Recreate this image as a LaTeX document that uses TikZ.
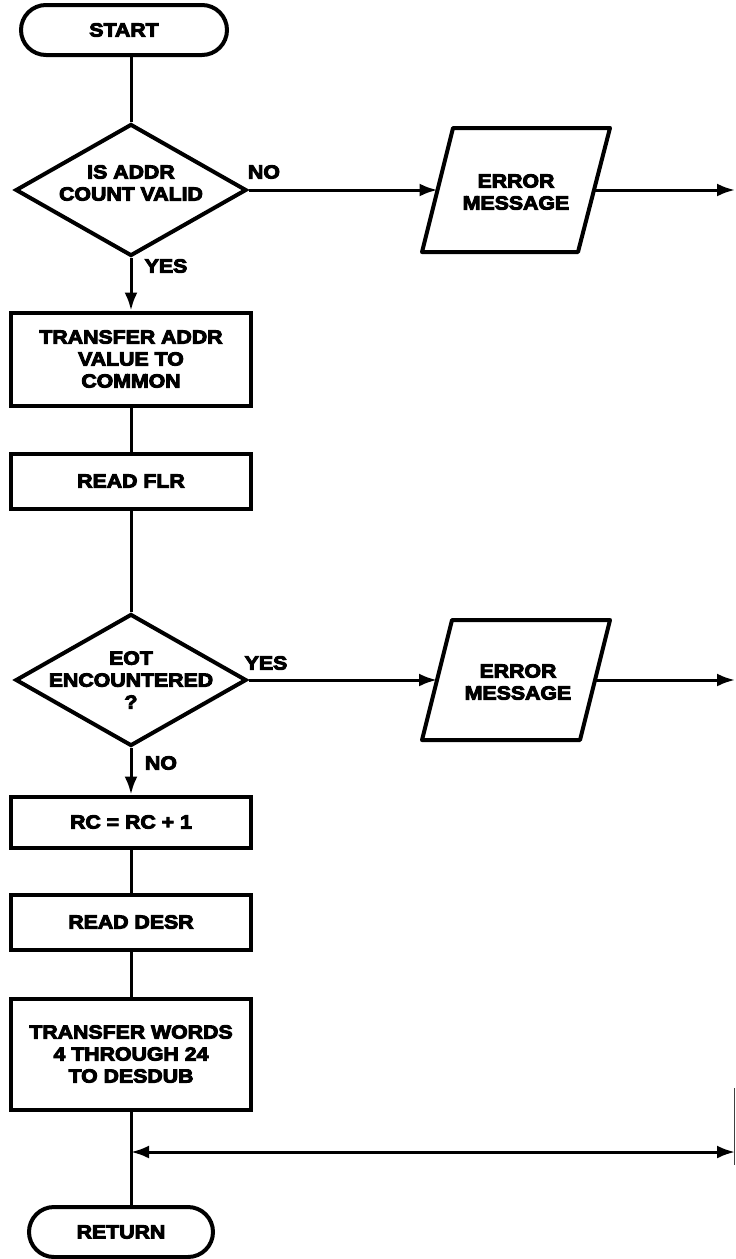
\documentclass[tikz,border=0pt]{standalone}
\usepackage{fontspec}
\newfontfamily\lblfont{Liberation Sans}[FakeStretch=1.12,FakeBold=5]
\usetikzlibrary{shapes.geometric,arrows.meta}
\tikzset{
  lbl/.style={font=\lblfont\bfseries\fontsize{19}{22}\selectfont},
  boxnode/.style={lbl, draw, line width=4pt, rectangle, minimum width=240pt, inner sep=0pt, align=center},
  term/.style={boxnode, rounded corners=25pt, minimum height=50pt},
  dia/.style={draw, diamond, line width=4pt, inner sep=0pt, minimum width=231pt, minimum height=132pt},
  paraline/.style={draw, line width=4pt, line join=round},
  txt/.style={lbl, align=center, inner sep=0pt},
  flow/.style={line width=3pt},
  arr/.style={flow, -{Latex[length=18pt,width=13pt]}},
  bothway/.style={flow, {Latex[length=18pt,width=13pt]}-{Latex[length=18pt,width=13pt]}},
}
\begin{document}
\begin{tikzpicture}[x=1pt,y=-1pt]
\useasboundingbox (0,0) rectangle (736,1259);
% main column
\node[term, minimum width=206pt] (start) at (124,30) {START};
\node[dia] (d1) at (131,190) {};
\node[txt] (d1t) at (131,183) {IS ADDR\\COUNT VALID};
\node[boxnode, minimum height=93pt] (b1) at (131,359) {TRANSFER ADDR\\VALUE TO\\COMMON};
\node[boxnode, minimum height=55pt] (b2) at (131,481) {READ FLR};
\node[dia] (d2) at (131,680) {};
\node[txt] (d2t) at (131,680) {EOT\\ENCOUNTERED\\?};
\node[boxnode, minimum height=51pt] (b3) at (131,822) {RC = RC + 1};
\node[boxnode, minimum height=55pt] (b4) at (131,922) {READ DESR};
\node[boxnode, minimum height=111pt] (b5) at (131,1054) {TRANSFER WORDS\\4 THROUGH 24\\TO DESDUB};
\node[term, minimum width=184pt] (ret) at (121,1232) {RETURN};
% error outputs (parallelograms)
\coordinate (e1a) at (453,128);
\coordinate (e1b) at (610,128);
\coordinate (e1c) at (578,252);
\coordinate (e1d) at (422,252);
\coordinate (e1w) at (437.5,190);
\coordinate (e1e) at (594,190);
\draw[paraline] (e1a) -- (e1b) -- (e1c) -- (e1d) -- cycle;
\node[txt] (e1t) at (516,192) {ERROR\\MESSAGE};
\coordinate (e2a) at (452,620);
\coordinate (e2b) at (610,620);
\coordinate (e2c) at (580,740);
\coordinate (e2d) at (422,740);
\coordinate (e2w) at (437,680);
\coordinate (e2e) at (595,680);
\draw[paraline] (e2a) -- (e2b) -- (e2c) -- (e2d) -- cycle;
\node[txt] (e2t) at (518,682) {ERROR\\MESSAGE};
% edge coordinates
\coordinate (r1) at (735,190);
\coordinate (r2) at (735,680);
\coordinate (r3) at (735,1152);
\coordinate (j) at (131,1152);
\coordinate (edgeA) at (734.5,1088);
\coordinate (edgeB) at (734.5,1165);
% labels
\node[txt] (no1) at (264,172) {NO};
\node[txt] (yes1) at (166,266) {YES};
\node[txt] (yes2) at (266,663) {YES};
\node[txt] (no2) at (161,763) {NO};
% connectors
\draw[flow] (d1.north |- start.south) -- (d1.north);
\draw[arr] (d1.south) -- (b1.north);
\draw[flow] (b1) -- (b2);
\draw[flow] (b2) -- (d2);
\draw[arr] (d2.south) -- (b3.north);
\draw[flow] (b3) -- (b4);
\draw[flow] (b4) -- (b5);
\draw[flow] (b5.south) -- (b5.south |- ret.north);
\draw[arr] (d1.east) -- (e1w);
\draw[arr] (e1e) -- (r1);
\draw[arr] (d2.east) -- (e2w);
\draw[arr] (e2e) -- (r2);
\draw[bothway] (j) -- (r3);
\draw[line width=1.3pt, black!75] (edgeA) -- (edgeB);
\end{tikzpicture}
\end{document}
